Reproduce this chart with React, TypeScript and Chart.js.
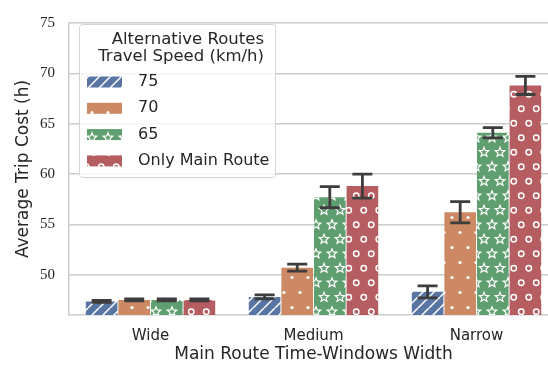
import { useEffect, useRef } from 'react';
import { Chart, registerables } from 'chart.js';
Chart.register(...registerables);

const categories = ['Wide', 'Medium', 'Narrow'];
const seriesLabels = ['75', '70', '65', 'Only Main Route'];
const speed75 = [47.35, 47.8, 48.3];
const speed70 = [47.5, 50.7, 56.2];
const speed65 = [47.5, 57.7, 64.1];
const onlyMain = [47.5, 58.8, 68.8];
const err75 = [0.1, 0.2, 0.6];
const err70 = [0.1, 0.35, 1.05];
const err65 = [0.1, 1.05, 0.5];
const errMain = [0.1, 1.2, 0.9];
const yTicks = [50, 55, 60, 65, 70, 75];
const legendTitle = ['Alternative Routes', 'Travel Speed (km/h)'];
const xTitle = 'Main Route Time-Windows Width';
const yTitle = 'Average Trip Cost (h)';

const colors = ['#5975a4', '#cc8963', '#5f9e6e', '#b55d60'];
const patternKinds = ['hatch', 'dots', 'stars', 'rings'];

const SANS = '"DejaVu Sans", sans-serif';
const SERIF = '"Liberation Serif", serif';

function makePattern(ctx: CanvasRenderingContext2D, color: string, kind: string): CanvasPattern | string {
  const c = document.createElement('canvas');
  let w = 15, h = 29;
  if (kind === 'hatch') { w = 11; h = 11; }
  if (kind === 'dots') { w = 16; h = 30; }
  if (kind === 'stars') { w = 16; h = 29; }
  if (kind === 'rings') { w = 15; h = 29; }
  c.width = w; c.height = h;
  const g = c.getContext('2d')!;
  g.fillStyle = color;
  g.fillRect(0, 0, w, h);
  g.strokeStyle = '#ffffff';
  g.fillStyle = '#ffffff';
  if (kind === 'hatch') {
    g.lineWidth = 1.5;
    for (const o of [-w, 0, w]) {
      g.beginPath();
      g.moveTo(o, h);
      g.lineTo(o + w, 0);
      g.stroke();
    }
  } else {
    const pts: [number, number][] = [];
    const offs = [0, w, -w];
    const voffs = [0, h, -h];
    for (const dx of offs) for (const dy of voffs) {
      pts.push([w * 0.25 + dx, h * 0.25 + dy]);
      pts.push([w * 0.75 + dx, h * 0.75 + dy]);
    }
    for (const [px, py] of pts) {
      if (kind === 'dots') {
        g.beginPath();
        g.arc(px, py, 1.6, 0, Math.PI * 2);
        g.fill();
      } else if (kind === 'rings') {
        g.lineWidth = 1.5;
        g.beginPath();
        g.arc(px, py, 2.7, 0, Math.PI * 2);
        g.stroke();
      } else {
        g.lineWidth = 1.2;
        g.beginPath();
        for (let k = 0; k < 10; k++) {
          const r = k % 2 === 0 ? 5.0 : 2.2;
          const a = -Math.PI / 2 + (k * Math.PI) / 5;
          const x = px + r * Math.cos(a);
          const y = py + r * Math.sin(a);
          if (k === 0) g.moveTo(x, y); else g.lineTo(x, y);
        }
        g.closePath();
        g.stroke();
      }
    }
  }
  return ctx.createPattern(c, 'repeat') || color;
}

export default function App() {
  const ref = useRef<HTMLCanvasElement | null>(null);
  useEffect(() => {
    const canvas = ref.current!;
    const ctx = canvas.getContext('2d')!;
    const values = [speed75, speed70, speed65, onlyMain];
    const errs = [err75, err70, err65, errMain];
    const patterns = colors.map((c, i) => makePattern(ctx, c, patternKinds[i]));

    const errorBars = {
      id: 'errorBars',
      afterDatasetsDraw(chart: any) {
        const c = chart.ctx;
        const ys = chart.scales.y;
        c.save();
        c.strokeStyle = '#3d3d3d';
        c.lineWidth = 2.8;
        c.lineCap = 'butt';
        chart.data.datasets.forEach((ds: any, i: number) => {
          const meta = chart.getDatasetMeta(i);
          meta.data.forEach((el: any, j: number) => {
            const v = ds.data[j];
            const e = errs[i][j];
            const yHi = ys.getPixelForValue(v + e);
            const yLo = ys.getPixelForValue(v - e);
            const x = el.x;
            const cap = 10;
            c.beginPath();
            c.moveTo(x, yHi); c.lineTo(x, yLo);
            c.moveTo(x - cap, yHi); c.lineTo(x + cap, yHi);
            c.moveTo(x - cap, yLo); c.lineTo(x + cap, yLo);
            c.stroke();
          });
        });
        c.restore();
      },
    };

    const legendBox = {
      id: 'legendBox',
      afterDraw(chart: any) {
        const c = chart.ctx;
        c.save();
        const bx = 79.5, by = 24.5, bw = 196, bh = 153, r = 3;
        c.beginPath();
        c.moveTo(bx + r, by);
        c.lineTo(bx + bw - r, by);
        c.quadraticCurveTo(bx + bw, by, bx + bw, by + r);
        c.lineTo(bx + bw, by + bh - r);
        c.quadraticCurveTo(bx + bw, by + bh, bx + bw - r, by + bh);
        c.lineTo(bx + r, by + bh);
        c.quadraticCurveTo(bx, by + bh, bx, by + bh - r);
        c.lineTo(bx, by + r);
        c.quadraticCurveTo(bx, by, bx + r, by);
        c.closePath();
        c.fillStyle = 'rgba(255,255,255,0.8)';
        c.fill();
        c.strokeStyle = '#d4d4d4';
        c.lineWidth = 1;
        c.stroke();
        c.fillStyle = '#262626';
        c.font = '16.5px ' + SANS;
        c.textAlign = 'right';
        c.textBaseline = 'middle';
        c.fillText(legendTitle[0], 264, 40);
        c.fillText(legendTitle[1], 264, 57);
        c.font = '16px ' + SANS;
        c.textAlign = 'left';
        chart.data.datasets.forEach((ds: any, i: number) => {
          const yc = 82 + i * 26.3;
          c.fillStyle = patterns[i];
          c.fillRect(87, yc - 5.5, 35, 11);
          c.fillStyle = '#262626';
          c.fillText(ds.label, 138, yc);
        });
        c.restore();
      },
    };

    const chart = new Chart(canvas, {
      type: 'bar',
      data: {
        labels: categories,
        datasets: values.map((v, i) => ({
          label: seriesLabels[i],
          data: v,
          backgroundColor: patterns[i] as any,
          borderWidth: 0,
          barPercentage: 0.97,
          categoryPercentage: 0.8,
        })),
      },
      options: {
        animation: false,
        responsive: false,
        devicePixelRatio: 1,
        layout: { padding: { top: 16, right: 12, left: 0, bottom: 0 } },
        plugins: { legend: { display: false }, tooltip: { enabled: false } },
        scales: {
          x: {
            grid: { display: false, drawTicks: false },
            border: { display: true, color: '#cccccc', width: 1.5 },
            ticks: { color: '#262626', font: { family: SANS, size: 15 }, padding: 12 },
            title: { display: true, text: xTitle, color: '#262626', font: { family: SANS, size: 17 }, padding: { top: 0, bottom: 4 } },
            afterFit: (s: any) => { s.height = 54; },
          },
          y: {
            min: 46,
            max: 75,
            grid: { color: '#cccccc', lineWidth: 1.5, drawTicks: false },
            border: { display: true, color: '#cccccc', width: 1.5 },
            ticks: { color: '#262626', font: { family: SERIF, size: 15 }, padding: 14 },
            afterBuildTicks: (s: any) => { s.ticks = yTicks.map((v) => ({ value: v })); },
            title: { display: true, text: yTitle, color: '#262626', font: { family: SANS, size: 17 }, padding: { top: 13, bottom: 0 } },
            afterFit: (s: any) => { s.width = 69; },
          },
        },
      },
      plugins: [errorBars, legendBox],
    });
    return () => chart.destroy();
  }, []);

  return (
    <div style={{ position: 'absolute', left: 0, top: 0, width: 548, height: 369, overflow: 'hidden', background: '#fff' }}>
      <canvas ref={ref} width={570} height={369} style={{ display: 'block' }} />
    </div>
  );
}
